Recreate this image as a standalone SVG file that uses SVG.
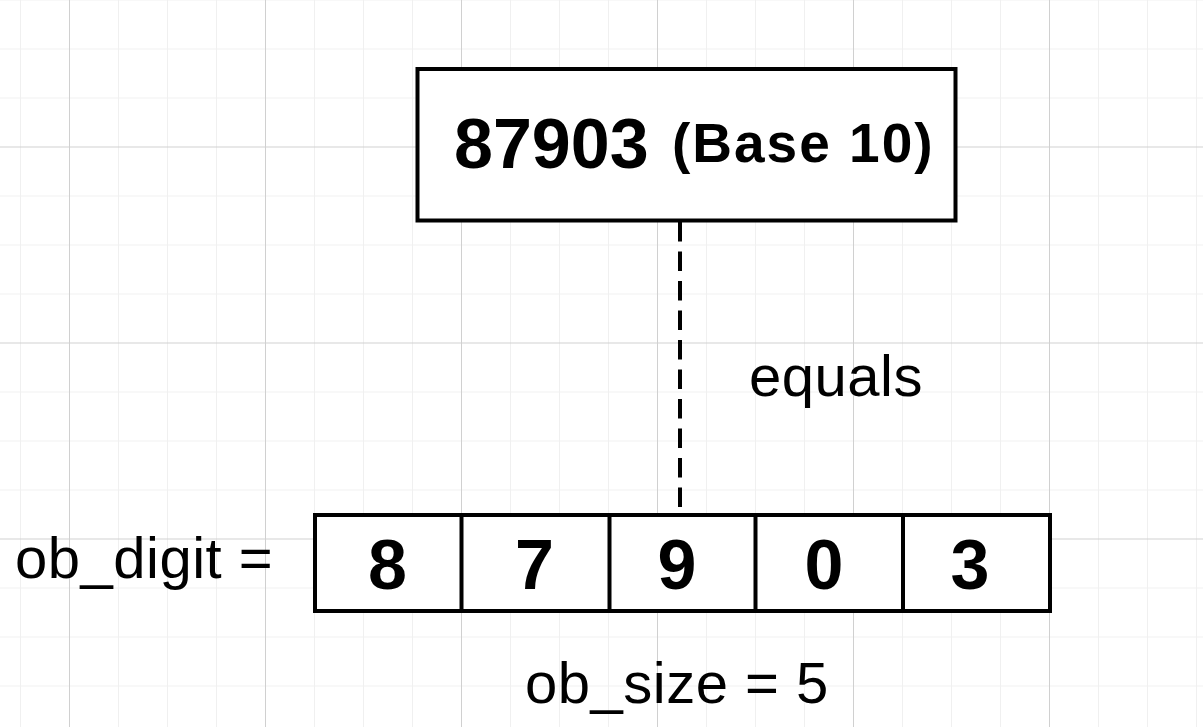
<svg xmlns="http://www.w3.org/2000/svg" width="1203" height="727" viewBox="0 0 1203 727">
  <defs>
    <pattern id="grid" patternUnits="userSpaceOnUse" x="69" y="146.5" width="196" height="196">
      <rect width="196" height="196" fill="#ffffff"/>
      <path d="M49.5 0V196M98.5 0V196M147.5 0V196M0 49.5H196M0 98.5H196M0 147.5H196" stroke="#f0f0f0" stroke-width="1" fill="none"/>
      <path d="M0.5 0V196M0 0.5H196" stroke="#d0d0d0" stroke-width="1" fill="none"/>
    </pattern>
    <style>
      .box { fill: #ffffff; stroke: #000000; stroke-width: 4; }
      .div { stroke: #000000; stroke-width: 4; fill: none; }
      .big { font-family: "Liberation Sans", Arial, sans-serif; font-weight: bold; font-size: 70px; fill: #000; }
      .mid { font-family: "Liberation Sans", Arial, sans-serif; font-weight: bold; font-size: 55px; letter-spacing: 2px; fill: #000; }
      .lbl { font-family: "Liberation Sans", Arial, sans-serif; font-size: 58px; letter-spacing: 0.5px; fill: #000; }
      .conn { stroke: #000000; stroke-width: 4; stroke-dasharray: 19.5 10; fill: none; }
    </style>
  </defs>
  <rect width="1203" height="727" fill="url(#grid)"/>

  <g id="connectors">
    <path class="conn" d="M680 222V508"/>
  </g>

  <g id="node-base10">
    <rect class="box" x="417.5" y="69" width="538" height="151.5"/>
    <text class="big" x="454" y="168">87903</text>
    <text class="mid" x="672" y="162">(Base 10)</text>
  </g>

  <g id="label-equals">
    <text class="lbl" x="749" y="396">equals</text>
  </g>

  <g id="label-ob-digit">
    <text class="lbl" x="15" y="578">ob_digit =</text>
  </g>

  <g id="node-digits">
    <rect class="box" x="315" y="515" width="735" height="96"/>
    <path class="div" d="M461.5 515V611M609.5 515V611M755.5 515V611M903 515V611"/>
    <text class="big" text-anchor="middle" x="387.5" y="589">8</text>
    <text class="big" text-anchor="middle" x="534.5" y="589">7</text>
    <text class="big" text-anchor="middle" x="677" y="589">9</text>
    <text class="big" text-anchor="middle" x="824" y="589">0</text>
    <text class="big" text-anchor="middle" x="970" y="589">3</text>
  </g>

  <g id="label-ob-size">
    <text class="lbl" x="525" y="703">ob_size = 5</text>
  </g>
</svg>
